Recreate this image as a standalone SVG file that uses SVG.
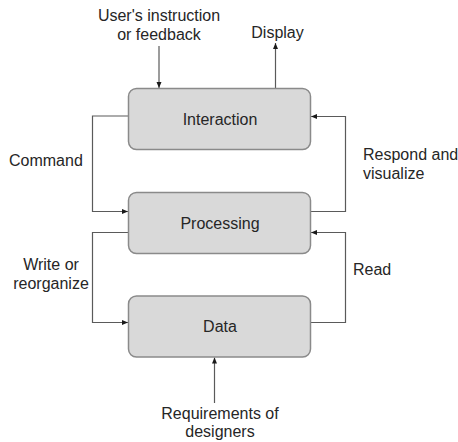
<svg xmlns="http://www.w3.org/2000/svg" width="458" height="442" viewBox="0 0 458 442">
<defs>
<marker id="ah" markerWidth="6" markerHeight="6" refX="6" refY="3" orient="auto" markerUnits="userSpaceOnUse">
<path d="M0,0.5 L6,3 L0,5.5 z" fill="#1a1a1a"/>
</marker>
<style>
.box{fill:#d9d9d9;stroke:#8a8a8a;stroke-width:1.5}
.lbl{font-family:"Liberation Sans",Arial,sans-serif;font-size:16px;fill:#262626}
.c{text-anchor:middle}
.ln{fill:none;stroke:#5a5a5a;stroke-width:1.2;marker-end:url(#ah)}
</style>
</defs>
<rect width="458" height="442" fill="#ffffff"/>
<g id="connectors">
<path class="ln" d="M159,46 V88"/>
<path class="ln" d="M275.5,88 V43"/>
<path class="ln" d="M128.5,116 H92.5 V211.5 H128"/>
<path class="ln" d="M310.5,211.5 H345.5 V116.5 H311"/>
<path class="ln" d="M128.5,232.5 H92.5 V322.5 H128"/>
<path class="ln" d="M310.5,322.5 H345.5 V232.5 H311"/>
<path class="ln" d="M214.5,403 V357.5"/>
</g>
<g id="interaction">
<rect class="box" x="128.5" y="88.5" width="182" height="61" rx="8"/>
<text class="lbl c" x="220" y="124.5">Interaction</text>
</g>
<g id="processing">
<rect class="box" x="128.5" y="192.5" width="182" height="61" rx="8"/>
<text class="lbl c" x="220" y="228.5">Processing</text>
</g>
<g id="data">
<rect class="box" x="128.5" y="296" width="182" height="61" rx="8"/>
<text class="lbl c" x="220" y="332">Data</text>
</g>
<g id="labels">
<text class="lbl c" x="159" y="21">User's instruction</text>
<text class="lbl c" x="159" y="40">or feedback</text>
<text class="lbl c" x="277.5" y="38">Display</text>
<text class="lbl" x="9" y="166">Command</text>
<text class="lbl" x="363" y="160">Respond and</text>
<text class="lbl" x="363" y="179">visualize</text>
<text class="lbl c" x="51" y="270">Write or</text>
<text class="lbl c" x="51" y="289">reorganize</text>
<text class="lbl" x="353" y="275">Read</text>
<text class="lbl c" x="220" y="419">Requirements of</text>
<text class="lbl c" x="220" y="437">designers</text>
</g>
</svg>
